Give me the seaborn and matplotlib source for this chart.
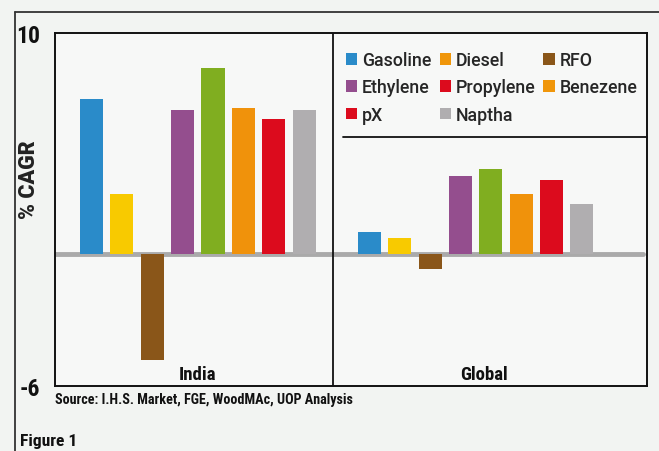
import matplotlib
matplotlib.use("Agg")
import matplotlib.pyplot as plt
from matplotlib import font_manager
from matplotlib.patches import Patch
from matplotlib.lines import Line2D
import seaborn as sns
import pandas as pd

# Compound annual growth rates, %
regions = ["India", "Global"]
products = ["Gasoline", "Diesel", "RFO", "Ethylene", "Propylene", "Benezene", "pX", "Naptha"]
india_cagr = [7.0, 2.7, -4.8, 6.5, 8.4, 6.6, 6.1, 6.5]
global_cagr = [1.0, 0.7, -0.7, 3.5, 3.85, 2.7, 3.35, 2.25]

bar_colors = ["#2a8bc9", "#f8ca00", "#8a5619", "#944e8e", "#80ae20", "#f0920b", "#dc0b1d", "#b0aeb0"]
legend_colors = ["#2a8bc9", "#f0960a", "#8a5619", "#944e8e", "#dc0b1d", "#f0960a", "#dc0b1d", "#b0aeb0"]

y_ticks = [-6, 10]
y_label = "% CAGR"
source_note = "Source: I.H.S. Market, FGE, WoodMAc, UOP Analysis"
figure_caption = "Figure 1"

df = pd.DataFrame({
    "region": [r for r in regions for _ in products],
    "product": products * len(regions),
    "value": india_cagr + global_cagr,
})

installed = {f.name for f in font_manager.fontManager.ttflist}


def pick(*names):
    return [n for n in names if n in installed] + ["DejaVu Sans"]


narrow = pick("Roboto Condensed", "Liberation Sans Narrow", "Roboto")
heavy = pick("Roboto", "Liberation Sans")
legend_font = pick("Roboto")

sns.set_theme(style="white")
plt.rcParams["font.family"] = legend_font

fig = plt.figure(figsize=(6.59, 4.52), dpi=100, facecolor="#f2f4f2")
ax = fig.add_axes([0.0835, 0.1438, 0.8983, 0.781])
ax.set_facecolor("#f7f8f7")

sns.barplot(
    data=df, x="region", y="value", hue="product",
    order=regions, hue_order=products,
    palette=dict(zip(products, bar_colors)),
    width=0.874, gap=0.24, saturation=1, errorbar=None,
    legend=False, ax=ax, zorder=3, linewidth=0,
)

ax.set_xlim(-0.514, 1.617)
ax.set_ylim(-6, 10)

# zero baseline
ax.axhline(0, xmin=0, xmax=0.993, color="#aaaaaa", lw=3.5, zorder=2)
# panel divider and legend box rule
ax.axvline(0.487, color="#111111", lw=1.3, zorder=4)
ax.plot([0.4865, 1.0], [0.7054, 0.7054], transform=ax.transAxes,
        color="#111111", lw=1.3, zorder=4, clip_on=False)

for s in ax.spines.values():
    s.set_color("#111111")
    s.set_linewidth(1.4)

ax.set_xticks([])
ax.set_xlabel("")
ax.set_yticks(y_ticks)
ax.set_yticklabels([str(v) for v in y_ticks], family=narrow, fontweight="bold",
                   fontsize=17, color="#111111")
ax.tick_params(axis="y", length=0, pad=11)
ax.set_ylabel(y_label, family=heavy, fontweight="heavy", fontsize=15.5,
              color="#222222")
ax.yaxis.label.set_va("center")
ax.yaxis.set_label_coords(-0.0435, 0.588)

for x, name in zip([0.0, 1.03], regions):
    ax.text(x, -5.45, name, ha="center", va="center", family=narrow,
            fontweight="bold", fontsize=13.5, color="#111111", zorder=5)

# legend laid out row by row (matplotlib fills columns first)
order = [0, 3, 6, 1, 4, 7, 2, 5]
handles = [Patch(facecolor=legend_colors[i], edgecolor="none", label=products[i]) for i in order]
ax.legend(handles=handles, ncol=3, loc="upper left", bbox_to_anchor=(0.4645, 0.994),
          frameon=False, handlelength=0.63, handleheight=0.63,
          handletextpad=0.28, columnspacing=0.45, labelspacing=0.52,
          prop={"family": legend_font, "weight": "medium", "size": 12.8})

fig.text(55 / 659, 1 - 400 / 452, source_note, ha="left", va="center",
         family=narrow, fontweight="bold", fontsize=10.2, color="#111111")
fig.text(20 / 659, 1 - 442 / 452, figure_caption, ha="left", va="center",
         family=narrow, fontweight="bold", fontsize=12.6, color="#111111")

# outer frame: top and left rules
fig.add_artist(Line2D([15 / 659, 1.0], [1 - 13 / 452, 1 - 13 / 452],
                      color="#333333", lw=1.3, transform=fig.transFigure))
fig.add_artist(Line2D([15 / 659, 15 / 659], [0.0, 1 - 13 / 452],
                      color="#333333", lw=1.3, transform=fig.transFigure))

fig.savefig("out.png", dpi=100, facecolor=fig.get_facecolor())
